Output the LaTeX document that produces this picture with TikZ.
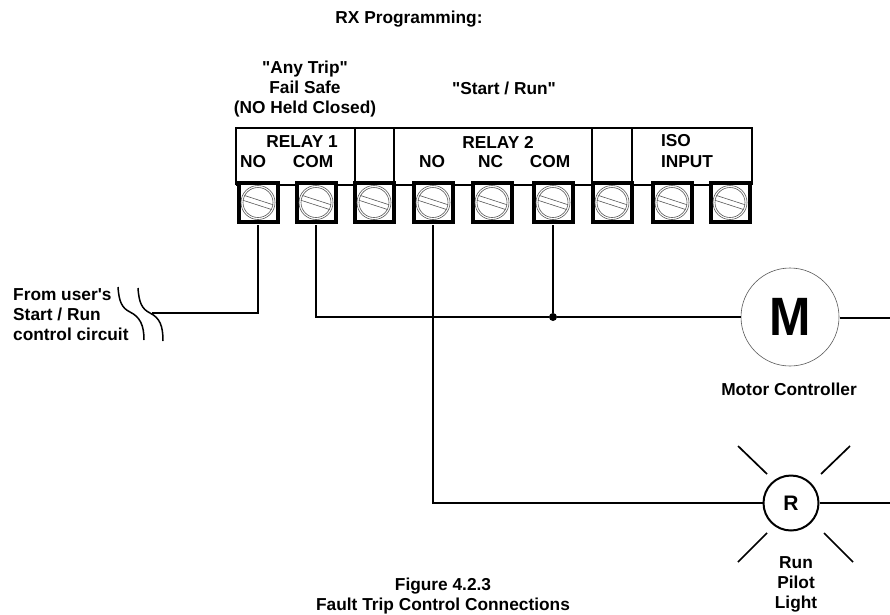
\documentclass[tikz,border=0pt]{standalone}
\usepackage{fontspec}
\newfontfamily\lblfont{Liberation Sans}
\tikzset{
	lbl/.style={align=center, inner sep=0pt, font=\lblfont\fontsize{17.3}{20}\selectfont\bfseries},
	terminal/.style={draw, line width=4pt, minimum size=39pt, inner sep=0pt, outer sep=0pt},
	screw/.style={draw=gray!70!black, line width=0.6pt},
	wire/.style={line width=1.5pt},
	box/.style={line width=2pt},
	ray/.style={line width=1.7pt}
}

\begin{document}
\begin{tikzpicture}[x=1pt, y=-1pt]
	\useasboundingbox[fill=white] (0,0) rectangle (890,614);
	
	\node[lbl] (title) at (409,19) {RX Programming:};
	\node[lbl] (anytrip) at (305,89) {"Any Trip"\\Fail Safe\\(NO Held Closed)};
	\node[lbl] (startrun) at (504,88) {"Start / Run"};
	
	% terminal strip
	\draw[box] (236,185) -- (236,128) -- (752,128) -- (752,185);
	\draw[line width=1.5pt] (236,185) -- (752,185);
	\draw[box] (355,128) -- (355,185);
	\draw[box] (394,128) -- (394,185);
	\draw[box] (592,128) -- (592,185);
	\draw[box] (632,128) -- (632,185);
	
	\node[lbl] (relayone) at (302,142) {RELAY 1};
	\node[lbl] (noone) at (253,162) {NO};
	\node[lbl] (comone) at (313,162) {COM};
	\node[lbl] (relaytwo) at (498,142) {RELAY 2};
	\node[lbl] (notwo) at (432,162) {NO};
	\node[lbl] (nctwo) at (490.5,162) {NC};
	\node[lbl] (comtwo) at (550,162) {COM};
	\node[lbl] (iso) at (676,141) {ISO};
	\node[lbl] (input) at (687,162) {INPUT};
	
	\foreach \i/\x in {1/258,2/316,3/374,4/433,5/492,6/553,7/612,8/672,9/730}{
		\node[terminal, fill=white] (t\i) at (\x,202.5) {};
		\draw[screw] (t\i.center) circle (17);
		\draw[screw] (t\i.center) circle (15);
		\draw[screw, shift={(t\i.center)}, rotate=-18] (-15,-2.5) -- (15,-2.5);
		\draw[screw, shift={(t\i.center)}, rotate=-18] (-15,2.5) -- (15,2.5);
	}
	
	% motor and pilot light
	\node[circle, draw=gray!70!black, line width=0.6pt, minimum size=98pt, inner sep=0pt, font=\lblfont\fontsize{54}{54}\selectfont\bfseries] (motor) at (790,317) {\scalebox{0.92}[1]{M}};
	\node[circle, draw, line width=2pt, minimum size=55pt, inner sep=0pt, font=\lblfont\fontsize{21}{21}\selectfont\bfseries] (lamp) at (791,503) {R};
	\node[lbl] (motorlbl) at (789,389) {Motor Controller};
	\node[lbl] (lamplbl) at (796,584) {Run\\Pilot\\Light};
	
	\draw[ray] (767,474) -- (738,446);
	\draw[ray] (821,474) -- (850,446);
	\draw[ray] (767,533) -- (738,562);
	\draw[ray] (824,533) -- (853,562);
	
	% wiring
	\node[lbl, align=left, anchor=west] (from) at (13,315) {From user's\\Start / Run\\control circuit};
	\coordinate (brk) at (152,313);
	\coordinate (mright) at (890,318);
	\coordinate (lright) at (890,503);
	\node[circle, fill, inner sep=0pt, minimum size=8pt] (junction) at (t6|-motor.west) {};
	
	\draw[wire, shorten <=3pt] (t1.south) |- (brk);
	\draw[wire, shorten <=3pt] (t2.south) |- (junction);
	\draw[wire, shorten <=3pt] (t6.south) -- (junction);
	\draw[wire] (junction) -- (motor.west);
	\draw[wire] (motor.east) ++(1,1) -- (mright);
	\draw[wire, shorten <=3pt] (t4.south) |- (lamp.west);
	\draw[wire] (lamp.east) -- (lright);
	
	\draw[wire] (118,287) .. controls (119,302) and (122,308) .. (130,312) .. controls (140,317) and (144,325) .. (144,340);
	\draw[wire] (138,288) .. controls (139,303) and (142,309) .. (150,313) .. controls (160,318) and (163,326) .. (163,341);
	
	\node[lbl] (figure) at (443,596.5) {Figure 4.2.3\\Fault Trip Control Connections};
\end{tikzpicture}
\end{document}
